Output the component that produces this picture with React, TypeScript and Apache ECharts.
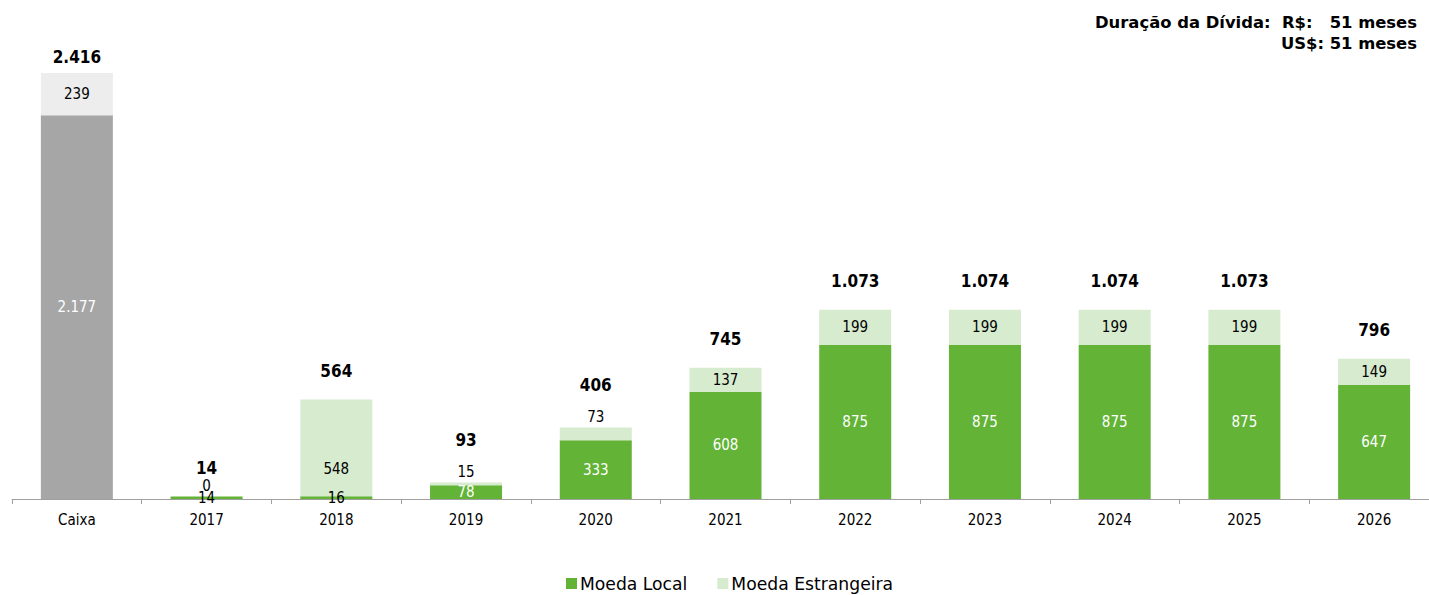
import React, { useEffect, useRef } from "react";
import * as echarts from "echarts";

const categories = ["Caixa", "2017", "2018", "2019", "2020", "2021", "2022", "2023", "2024", "2025", "2026"];
const localValues = [2177, 14, 16, 78, 333, 608, 875, 875, 875, 875, 647];
const foreignValues = [239, 0, 548, 15, 73, 137, 199, 199, 199, 199, 149];
const totals = [2416, 14, 564, 93, 406, 745, 1073, 1074, 1074, 1073, 796];
const seriesNames = ["Moeda Local", "Moeda Estrangeira"];
const durationText = "Duração da Dívida:  R$:   51 meses\nUS$: 51 meses";

const GREEN = "#62B336";
const LIGHT_GREEN = "#D7EBCF";
const GRAY = "#A6A6A6";
const LIGHT_GRAY = "#EDEDED";
const FONT = "'DejaVu Sans Condensed', 'DejaVu Sans'";

const fmt = (v: number) => String(v).replace(/\B(?=(\d{3})+(?!\d))/g, ".");

export default function App() {
  const ref = useRef<HTMLDivElement>(null);
  useEffect(() => {
    if (!ref.current) return;
    const chart = echarts.init(ref.current, undefined, { renderer: "svg" });

    const localData = localValues.map((v, i) => ({
      value: v,
      itemStyle: { color: i === 0 ? GRAY : GREEN },
      label: { color: v < 30 ? "#000" : "#fff" },
    }));

    const foreignData = foreignValues.map((v, i) => {
      const small = v < 100 && i !== 0;
      let label: any = { position: "inside" };
      if (small) label = { position: "top", distance: 3 };
      if (categories[i] === "2018") label = { position: "insideBottom", distance: 20 };
      return {
        value: v,
        itemStyle: { color: i === 0 ? LIGHT_GRAY : LIGHT_GREEN },
        label,
      };
    });

    const totalData = totals.map((t, i) => {
      let distance = 20;
      if (i === 0) distance = 8;
      else if (foreignValues[i] > 0 && foreignValues[i] < 100) distance = 34;
      return { value: 0, label: { distance } };
    });

    chart.setOption({
      animation: false,
      textStyle: { fontFamily: FONT },
      grid: { left: 12, right: 0, top: 73, bottom: 96, containLabel: false },
      legend: {
        data: seriesNames,
        left: 566,
        top: 575,
        padding: 0,
        icon: "rect",
        itemWidth: 11,
        itemHeight: 11,
        itemGap: 30,
        itemStyle: { borderWidth: 0 },
        textStyle: { fontFamily: "'DejaVu Sans'", fontSize: 17.2, color: "#000", padding: [0, 0, 0, -2] },
      },
      xAxis: {
        type: "category",
        data: categories,
        axisLine: { lineStyle: { color: "#A0A0A0", width: 1 } },
        axisTick: { show: true, length: 5, lineStyle: { color: "#A0A0A0" } },
        axisLabel: { color: "#000", fontSize: 15, margin: 13, fontFamily: FONT },
      },
      yAxis: {
        type: "value",
        min: 0,
        max: 2416,
        show: false,
        splitLine: { show: false },
      },
      series: [
        {
          name: seriesNames[0],
          type: "bar",
          stack: "s",
          barWidth: 72,
          color: GREEN,
          data: localData,
          label: { show: true, position: "inside", fontSize: 15, fontFamily: FONT, formatter: (p: any) => fmt(p.value) },
        },
        {
          name: seriesNames[1],
          type: "bar",
          stack: "s",
          barWidth: 72,
          color: LIGHT_GREEN,
          data: foreignData,
          label: { show: true, fontSize: 15, color: "#000", fontFamily: FONT, formatter: (p: any) => fmt(p.value) },
        },
        {
          name: "Total",
          type: "bar",
          stack: "s",
          barWidth: 72,
          itemStyle: { color: "transparent" },
          data: totalData,
          label: {
            show: true,
            position: "top",
            fontSize: 17,
            fontWeight: "bold",
            color: "#000",
            fontFamily: FONT,
            formatter: (p: any) => fmt(totals[p.dataIndex]),
          },
          silent: true,
        },
      ],
      graphic: [
        {
          type: "text",
          right: 22,
          top: 12,
          style: {
            text: durationText,
            font: `bold 16.4px 'DejaVu Sans'`,
            fill: "#000",
            textAlign: "right",
            lineHeight: 21,
          },
        },
      ],
    });
    return () => chart.dispose();
  }, []);
  return (
    <div style={{ position: "absolute", left: 0, top: 0, width: 1429, height: 595, overflow: "hidden" }}>
      <div ref={ref} style={{ position: "absolute", left: 0, top: 0, width: 1439, height: 595 }} />
    </div>
  );
}
